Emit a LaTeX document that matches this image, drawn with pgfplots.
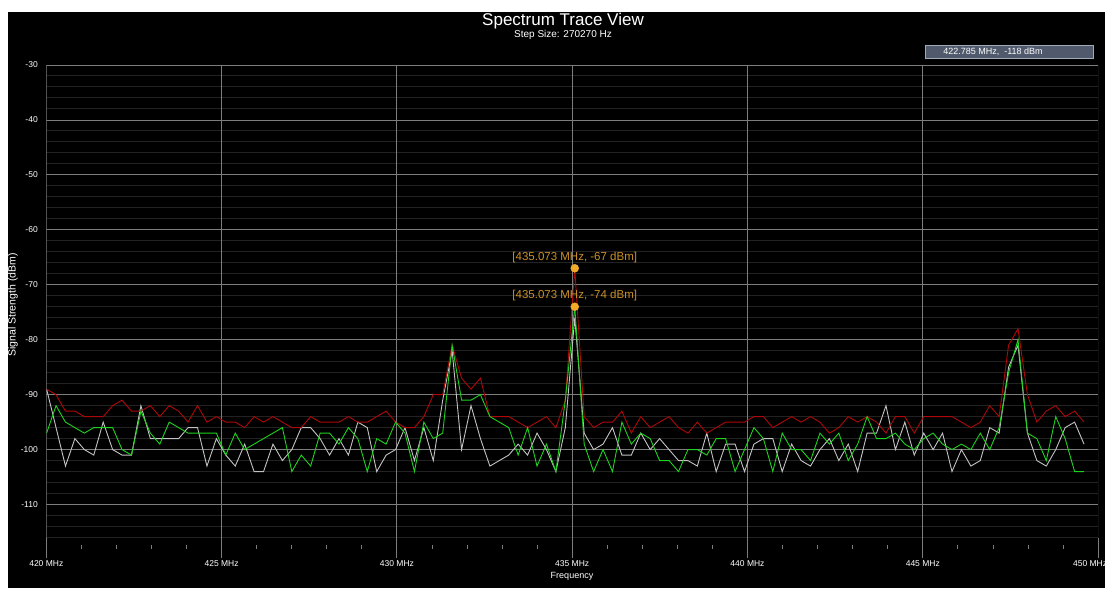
\documentclass[border=0pt]{standalone}
\usepackage{pgfplots}
\pgfplotsset{compat=1.18}
\usepackage{pgfplotstable}
\usepackage{fontspec}
\setmainfont{Liberation Sans}
\definecolor{trRed}{RGB}{175,8,8}
\definecolor{trGreen}{RGB}{30,210,30}
\definecolor{trWhite}{RGB}{195,195,195}
\definecolor{majgrid}{RGB}{125,125,125}
\definecolor{mingrid}{RGB}{34,34,34}
\definecolor{mkOrange}{RGB}{240,170,40}
\definecolor{lbOrange}{RGB}{205,145,40}
\definecolor{tipfill}{RGB}{80,90,108}
\definecolor{tipdraw}{RGB}{160,170,185}

\pgfplotstableread{
f red white green
420.009 -89 -89 -97
420.278 -90 -96 -92
420.547 -93 -103 -95
420.816 -93 -98 -96
421.085 -94 -100 -97
421.354 -94 -101 -96
421.623 -94 -95 -96
421.892 -92 -100 -96
422.161 -91 -101 -100
422.430 -93 -101 -101
422.699 -93 -92 -93
422.968 -92 -98 -97
423.237 -94 -98 -99
423.506 -92 -98 -95
423.775 -93 -98 -96
424.044 -95 -96 -97
424.313 -92 -96 -97
424.582 -95 -103 -97
424.851 -94 -98 -97
425.120 -95 -101 -101
425.389 -95 -103 -97
425.658 -96 -99 -100
425.927 -94 -104 -99
426.196 -95 -104 -98
426.465 -94 -99 -97
426.734 -95 -102 -96
427.003 -96 -100 -104
427.272 -96 -96 -101
427.541 -94 -96 -103
427.810 -95 -98 -97
428.079 -95 -101 -97
428.348 -95 -98 -99
428.617 -94 -101 -96
428.886 -95 -95 -98
429.155 -95 -96 -104
429.424 -94 -104 -98
429.693 -93 -101 -99
429.962 -95 -100 -95
430.231 -96 -96 -97
430.500 -96 -102 -104
430.769 -94 -96 -95
431.038 -90 -102 -98
431.307 -90 -91 -97
431.576 -81 -82 -81
431.845 -87 -100 -91
432.114 -89 -92 -91
432.383 -87 -98 -90
432.652 -94 -103 -94
432.921 -94 -102 -95
433.190 -94 -101 -96
433.459 -95 -99 -101
433.728 -96 -101 -96
433.997 -95 -97 -103
434.266 -94 -100 -99
434.535 -96 -104 -104
434.804 -91 -96 -91
435.073 -67 -76 -74
435.342 -94 -97 -99
435.611 -96 -100 -104
435.880 -95 -99 -100
436.149 -95 -96 -104
436.418 -93 -101 -95
436.687 -97 -101 -99
436.956 -94 -97 -97
437.225 -96 -100 -98
437.494 -95 -98 -102
437.763 -94 -100 -102
438.032 -96 -102 -104
438.301 -97 -102 -100
438.570 -95 -103 -100
438.839 -97 -97 -101
439.108 -96 -104 -98
439.377 -95 -99 -98
439.646 -95 -99 -104
439.915 -95 -104 -100
440.184 -94 -99 -96
440.453 -94 -98 -98
440.722 -96 -98 -104
440.991 -95 -104 -97
441.260 -94 -99 -100
441.529 -95 -102 -100
441.798 -94 -103 -102
442.067 -95 -100 -97
442.336 -97 -98 -99
442.605 -96 -102 -97
442.874 -94 -99 -102
443.143 -95 -104 -99
443.412 -94 -97 -94
443.681 -95 -97 -98
443.950 -97 -92 -98
444.219 -94 -100 -97
444.488 -94 -95 -99
444.757 -97 -101 -100
445.026 -94 -97 -98
445.295 -94 -100 -97
445.564 -94 -97 -99
445.833 -94 -104 -100
446.102 -95 -100 -99
446.371 -96 -103 -100
446.640 -95 -102 -97
446.909 -92 -96 -100
447.178 -94 -97 -96
447.447 -81 -85 -86
447.716 -78 -81 -80
447.985 -90 -97 -97
448.254 -95 -102 -98
448.523 -93 -103 -102
448.792 -92 -100 -94
449.061 -94 -96 -98
449.330 -93 -95 -104
449.599 -95 -99 -104
}\spectrum

\begin{document}
\begin{tikzpicture}[x=1pt,y=1pt]
\useasboundingbox (0,0) rectangle (1110,595);
\begin{scope}
\clip (0,0) rectangle (1110,595);
\fill[white] (0,0) rectangle (1110,595);
\fill[black] (8,7) rectangle (1105,583);
\node[text=white, font=\fontsize{17}{19}\selectfont] at (563,574) {Spectrum Trace View};
\node[text=white, font=\fontsize{10}{12}\selectfont] at (563,560) {Step Size: 270270 Hz};
\draw[tipdraw, fill=tipfill] (925,537) rectangle (1093,550);
\node[text=white, font=\fontsize{9}{10}\selectfont] at (993,543.5) {422.785 MHz,\ \ -118 dBm};
\node[text=white, rotate=90, font=\fontsize{10.5}{12}\selectfont] at (13,290) {Signal Strength (dBm)};
\node[text=white, font=\fontsize{9}{11}\selectfont] at (572,19) {Frequency};
\begin{axis}[
  at={(46.3pt,57.5pt)}, anchor=south west,
  width=1051.8pt, height=472.5pt, scale only axis,
  xmin=420, xmax=450, ymin=-116, ymax=-30,
  axis line style={draw=none},
  xtick={420,425,...,450},
  xticklabels={420 MHz,425 MHz,430 MHz,435 MHz,440 MHz,445 MHz,\hspace*{-16pt}450 MHz},
  ytick={-110,-100,...,-30},
  yticklabels={-110,-100,-90,-80,-70,-60,-50,-40,-30},
  minor x tick num=4,
  xtick pos=bottom, ytick pos=left,
  tick align=outside,
  major tick length=20pt,
  minor tick length=4pt,
  major x tick style={draw=majgrid, line width=0.8pt},
  minor x tick style={draw=majgrid, line width=0.8pt, yshift=-7.5pt},
  y tick style={draw=none},
  xticklabel style={text=white, font=\fontsize{8.5}{10}\selectfont},
  yticklabel style={text=white, font=\fontsize{8.5}{10}\selectfont, xshift=15pt},
]
\pgfplotsinvokeforeach{-116,-114,-112,-108,-106,-104,-102,-98,-96,-94,-92,-88,-86,-84,-82,-78,-76,-74,-72,-68,-66,-64,-62,-58,-56,-54,-52,-48,-46,-44,-42,-38,-36,-34,-32}{
  \draw[draw=mingrid, line width=1pt] (axis cs:420,#1) -- (axis cs:450,#1);
}
\pgfplotsinvokeforeach{-110,-100,-90,-80,-70,-60,-50,-40,-30}{
  \draw[draw=majgrid, line width=0.8pt] (axis cs:420,#1) -- (axis cs:450,#1);
}
\pgfplotsinvokeforeach{420,425,430,435,440,445,450}{
  \draw[draw=majgrid, line width=0.8pt] (axis cs:#1,-116) -- (axis cs:#1,-30);
}
\addplot[trWhite, line width=0.9pt] table[x=f, y=white] {\spectrum};
\addplot[trRed, line width=0.9pt] table[x=f, y=red] {\spectrum};
\addplot[trGreen, line width=0.9pt] table[x=f, y=green] {\spectrum};
\addplot[only marks, mark=*, mark size=4pt, color=mkOrange] coordinates {(435.073,-67) (435.073,-74)};
\node[text=lbOrange, font=\fontsize{11.5}{13}\selectfont, yshift=11pt] at (axis cs:435.073,-67) {[435.073 MHz, -67 dBm]};
\node[text=lbOrange, font=\fontsize{11.5}{13}\selectfont, yshift=11pt] at (axis cs:435.073,-74) {[435.073 MHz, -74 dBm]};
\end{axis}
\end{scope}
\end{tikzpicture}
\end{document}
